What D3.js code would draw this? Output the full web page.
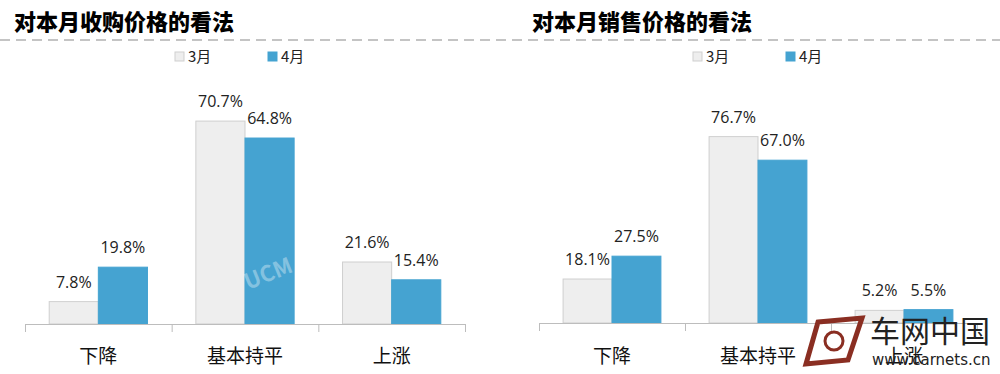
<!DOCTYPE html>
<html>
<head>
<meta charset="utf-8">
<script src="https://cdn.jsdelivr.net/npm/d3@7"></script>
<style>
  body { margin: 0; background: #fff; }
  svg { display: block; }
  text { font-family: "Noto Sans CJK SC", "Noto Sans", sans-serif; }
</style>
</head>
<body>
<svg id="chart" width="1000" height="374"></svg>
<script>
// data
var categories = ["下降", "基本持平", "上涨"];
var seriesNames = ["3月", "4月"];
var buyMarch = [7.8, 70.7, 21.6];
var buyApril = [19.8, 64.8, 15.4];
var sellMarch = [18.1, 76.7, 5.2];
var sellApril = [27.5, 67.0, 5.5];
var titles = ["对本月收购价格的看法", "对本月销售价格的看法"];

var colors = ["#eeeeee", "#45a3d1"];
var strokes = ["#cfcfcf", "#45a3d1"];

var svg = d3.select("#chart");

// dashed separator
svg.append("line")
  .attr("x1", 0).attr("x2", 1000)
  .attr("y1", 40).attr("y2", 40)
  .attr("stroke", "#c4c4c4")
  .attr("stroke-width", 2)
  .attr("stroke-dasharray", "10,6");

function draw_panel(opts) {
  var g = svg.append("g");

  g.append("text")
    .attr("x", opts.titleX).attr("y", 30)
    .attr("font-size", 22)
    .attr("font-weight", 900)
    .attr("fill", "#000")
    .text(opts.title);

  // legend
  seriesNames.forEach(function(name, i) {
    var lx = opts.legendX + i * 93;
    g.append("rect")
      .attr("x", lx).attr("y", 52)
      .attr("width", 9).attr("height", 9)
      .attr("fill", colors[i])
      .attr("stroke", strokes[i]);
    g.append("text")
      .attr("x", lx + 13).attr("y", 62)
      .attr("font-size", 15)
      .attr("fill", "#222")
      .text(name);
  });

  var xScale = d3.scaleBand()
    .domain(categories)
    .range([opts.x0, opts.x1])
    .padding(0);

  var yScale = d3.scaleLinear()
    .domain([0, 100])
    .range([opts.base, opts.base - opts.pxPerPct * 100]);

  var bw = xScale.bandwidth() * 0.335;
  var off = (xScale.bandwidth() - 2 * bw) / 2;

  var rows = categories.map(function(c, i) {
    return {cat: c, vals: [opts.march[i], opts.april[i]]};
  });

  rows.forEach(function(r) {
    r.vals.forEach(function(v, s) {
      var x = xScale(r.cat) + off + s * bw;
      g.append("rect")
        .attr("x", x)
        .attr("y", yScale(v))
        .attr("width", bw)
        .attr("height", opts.base - yScale(v))
        .attr("fill", colors[s])
        .attr("stroke", strokes[s])
        .attr("stroke-width", 1);
      g.append("text")
        .attr("x", x + bw / 2)
        .attr("y", yScale(v) - 14)
        .attr("text-anchor", "middle")
        .attr("font-size", 16)
        .attr("fill", "#222")
        .style("font-family", "'Open Sans', 'Noto Sans', sans-serif")
        .text(v.toFixed(1) + "%");
    });
  });

  // axis
  g.append("line")
    .attr("x1", opts.x0).attr("x2", opts.x1)
    .attr("y1", opts.base + 0.5).attr("y2", opts.base + 0.5)
    .attr("stroke", "#bdbdbd");
  var tickXs = categories.map(function(c) { return xScale(c); }).concat([opts.x1]);
  tickXs.forEach(function(tx) {
    g.append("line")
      .attr("x1", tx + 0.5).attr("x2", tx + 0.5)
      .attr("y1", opts.base).attr("y2", opts.base + 8)
      .attr("stroke", "#bdbdbd");
  });
  categories.forEach(function(c) {
    g.append("text")
      .attr("x", xScale(c) + xScale.bandwidth() / 2)
      .attr("y", 363)
      .attr("text-anchor", "middle")
      .attr("font-size", 19)
      .attr("fill", "#111")
      .text(c);
  });
  return g;
}

var left = draw_panel({
  title: titles[0], titleX: 14, legendX: 175,
  x0: 25, x1: 465, base: 324, pxPerPct: 2.87,
  march: buyMarch, april: buyApril
});

var right = draw_panel({
  title: titles[1], titleX: 532, legendX: 693,
  x0: 539, x1: 977, base: 323, pxPerPct: 2.43,
  march: sellMarch, april: sellApril
});

// watermarks
left.append("text")
  .attr("x", 248).attr("y", 290)
  .attr("transform", "rotate(-22,248,290)")
  .attr("font-size", 22)
  .attr("font-weight", "bold")
  .attr("fill", "#ffffff")
  .attr("fill-opacity", 0.35)
  .text("UCM");

var wm = svg.append("g");
wm.append("path")
  .attr("d", "M818,322 L862,318 L848,360 L806,364 Z")
  .attr("fill", "none")
  .attr("stroke", "#8a2e22")
  .attr("stroke-width", 5);
wm.append("circle")
  .attr("cx", 834).attr("cy", 341).attr("r", 9)
  .attr("fill", "none")
  .attr("stroke", "#8a2e22")
  .attr("stroke-width", 3);
wm.append("text")
  .attr("x", 870).attr("y", 342)
  .attr("font-size", 30)
  .attr("fill", "#222")
  .text("车网中国");
wm.append("text")
  .attr("x", 872).attr("y", 365)
  .attr("font-size", 15)
  .attr("fill", "#222")
  .style("font-family", "'DejaVu Sans', sans-serif")
  .text("www.carnets.cn");
</script>
</body>
</html>
